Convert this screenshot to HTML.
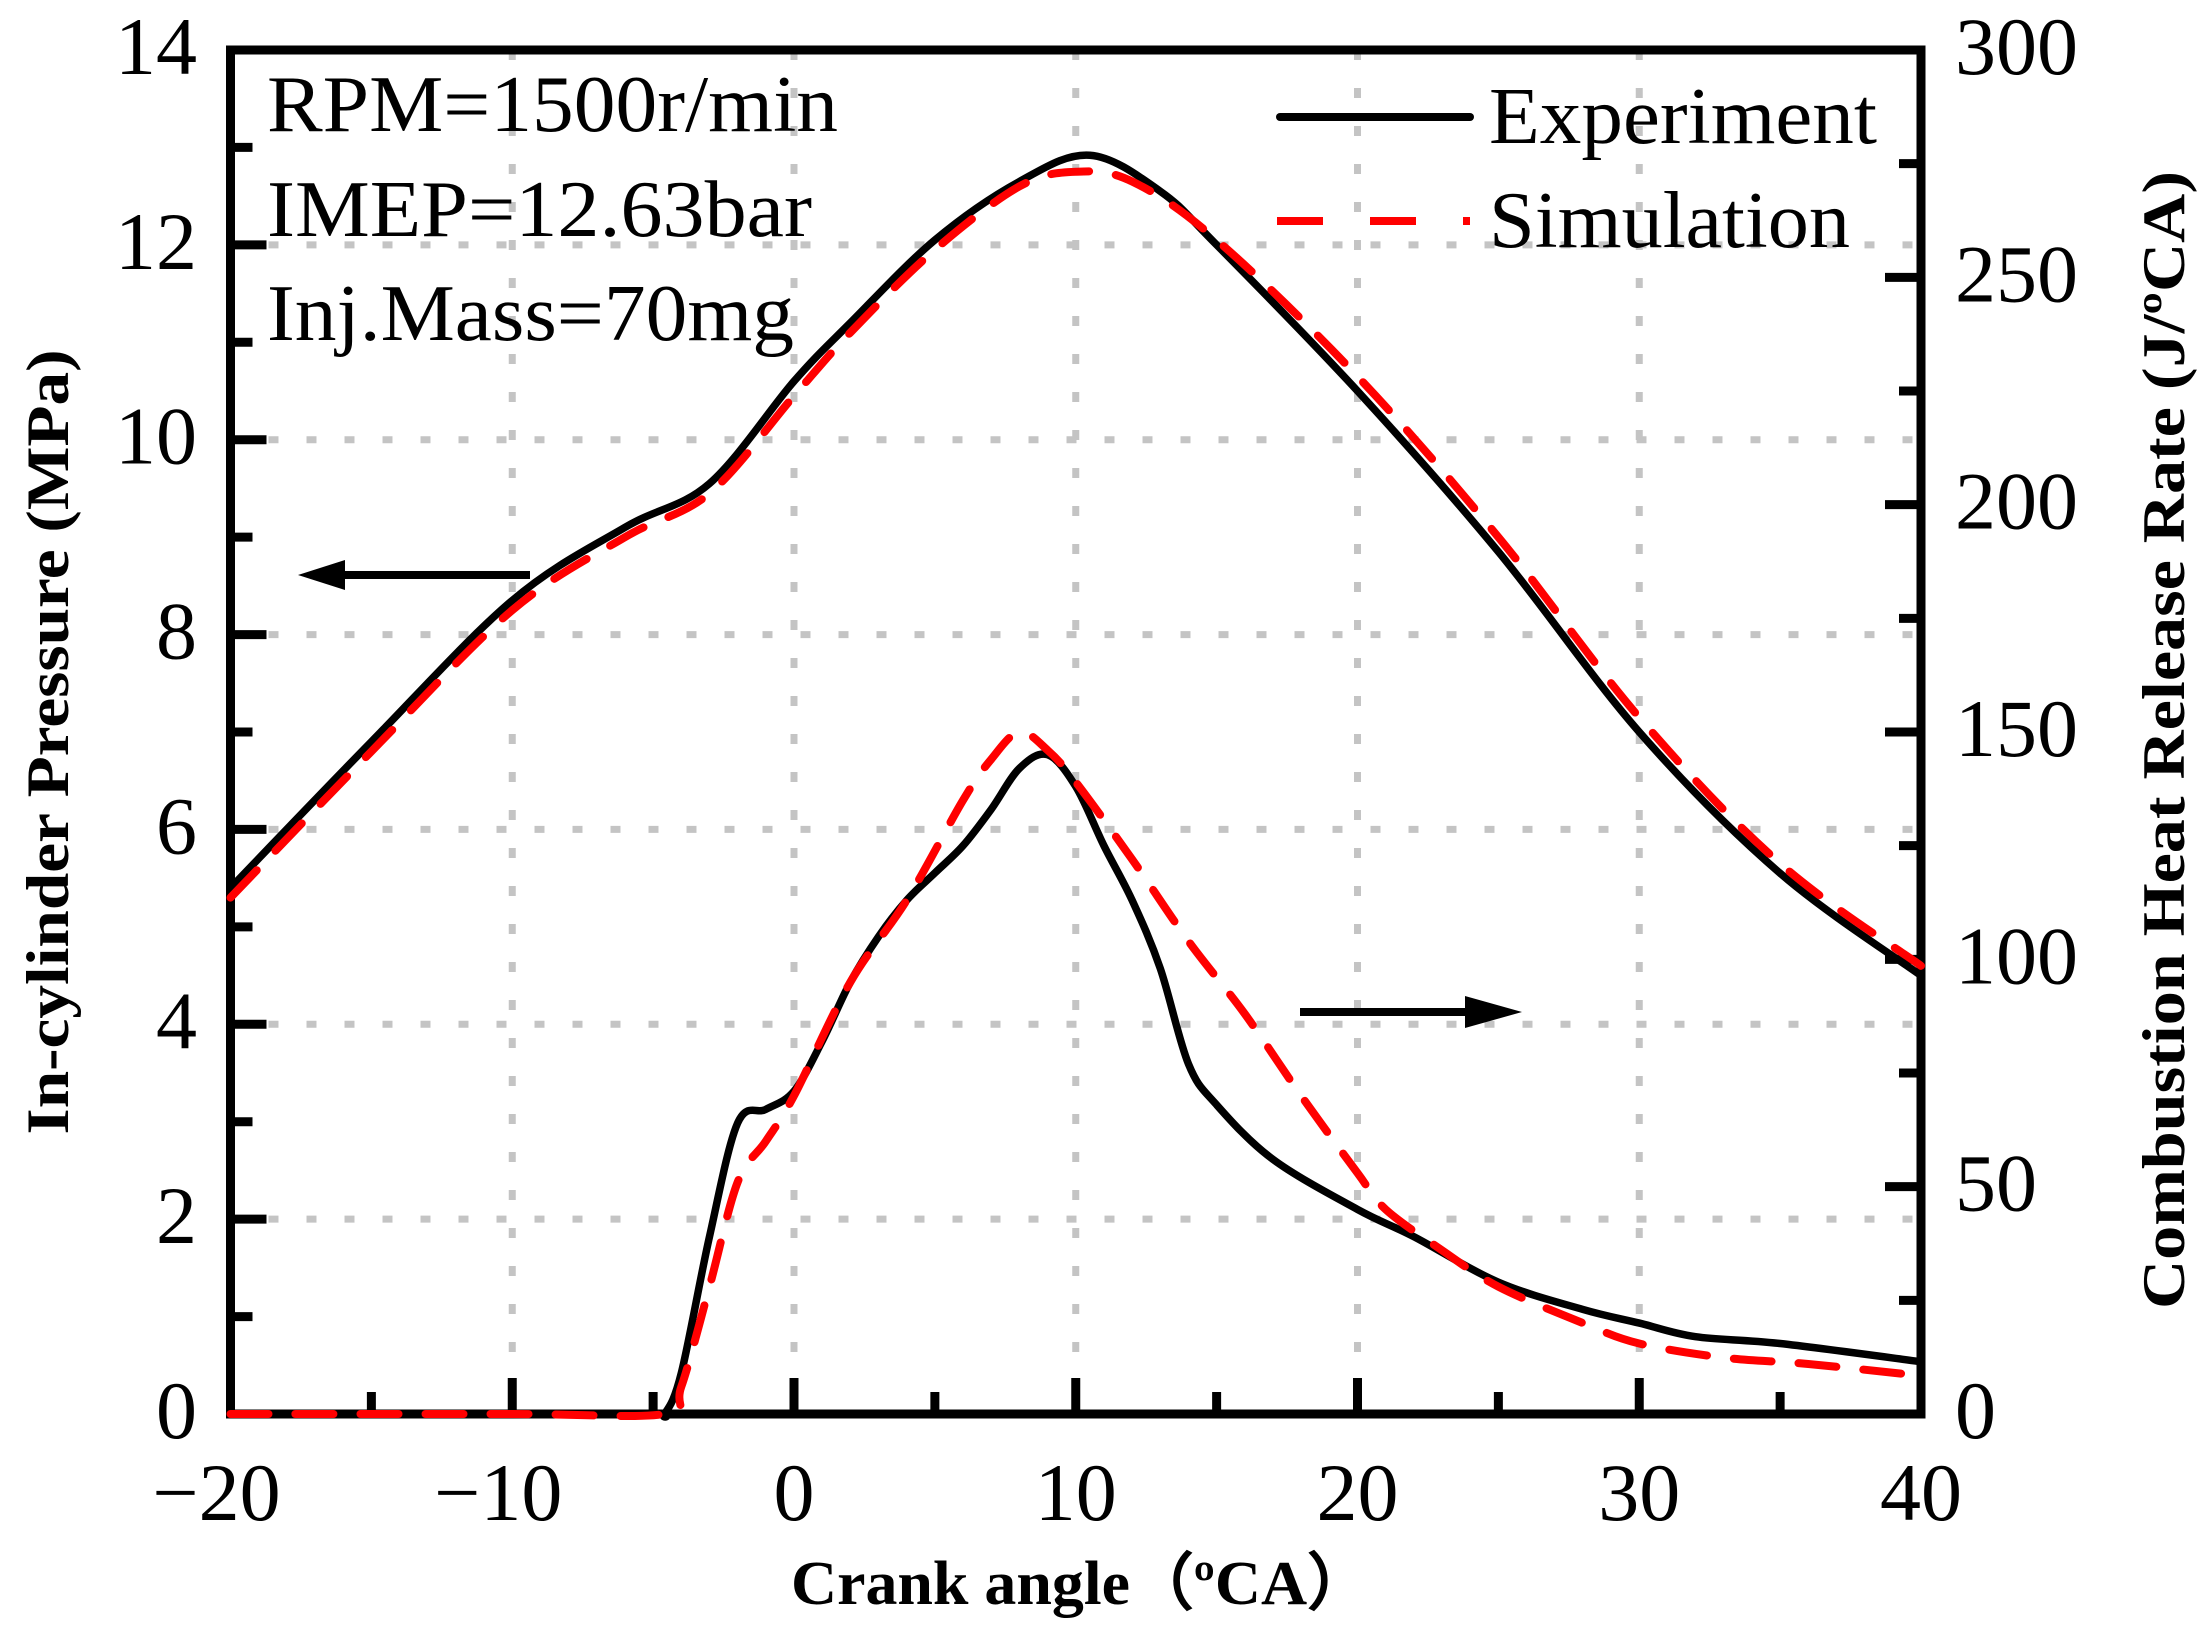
<!DOCTYPE html>
<html><head><meta charset="utf-8"><style>
html,body{margin:0;padding:0;background:#fff;}
svg{display:block;}
text{font-family:"Liberation Serif","Times New Roman",serif;}
</style></head><body>
<svg id="chart" width="2205" height="1633" viewBox="0 0 2205 1633" xmlns="http://www.w3.org/2000/svg">
<g id="grid"></g>
<g id="axes"></g>
<g id="series"></g>
<g id="labels"></g>
<text x="267" y="131" font-size="80" textLength="571" lengthAdjust="spacingAndGlyphs">RPM=1500r/min</text>
<text x="267" y="236" font-size="80" textLength="545" lengthAdjust="spacingAndGlyphs">IMEP=12.63bar</text>
<text x="267" y="340" font-size="80" textLength="527" lengthAdjust="spacingAndGlyphs">Inj.Mass=70mg</text>
<g>
<line x1="1280" y1="117" x2="1470" y2="117" stroke="#000" stroke-width="8" stroke-linecap="round"/>
<text x="1489" y="143" font-size="80" textLength="388" lengthAdjust="spacingAndGlyphs">Experiment</text>
<line x1="1277" y1="221" x2="1470" y2="221" stroke="#f00" stroke-width="8" stroke-dasharray="46,47"/>
<text x="1489" y="247" font-size="80" textLength="361" lengthAdjust="spacingAndGlyphs">Simulation</text>
</g>
<g>
<line x1="530" y1="575" x2="335" y2="575" stroke="#000" stroke-width="8"/>
<polygon points="298,575 345,560 345,590" fill="#000"/>
</g>
<g>
<line x1="1300" y1="1012" x2="1480" y2="1012" stroke="#000" stroke-width="8"/>
<polygon points="1522,1012 1465,996 1465,1028" fill="#000"/>
</g>
<text transform="translate(68,742) rotate(-90)" text-anchor="middle" font-size="60" font-weight="bold" textLength="785" lengthAdjust="spacingAndGlyphs">In-cylinder Pressure (MPa)</text>
<text transform="translate(2184,740) rotate(-90)" text-anchor="middle" font-size="60" font-weight="bold" textLength="1138" lengthAdjust="spacingAndGlyphs">Combustion Heat Release Rate (J/ºCA)</text>
<text x="1081" y="1604" text-anchor="middle" font-size="62" font-weight="bold" textLength="580" lengthAdjust="spacingAndGlyphs">Crank angle（ºCA）</text>
</svg>
<script>
const xTicks=[-20,-10,0,10,20,30,40];
const pTicks=[0,2,4,6,8,10,12,14];
const hTicks=[0,50,100,150,200,250,300];
const expPx=[-20,-15,-10,-6,-3,0,2,5,8,10.5,13,15,20,25,30,35,40];
const expP=[5.4,6.9,8.35,9.1,9.55,10.6,11.2,12.05,12.65,12.92,12.55,12.0,10.5,8.85,7.0,5.55,4.5];
const simPx=[-20,-15,-10,-6,-3,0,2,5,8,10,12,15,20,25,30,35,40];
const simP=[5.3,6.8,8.25,9.0,9.45,10.45,11.1,11.95,12.6,12.75,12.65,12.05,10.65,9.0,7.15,5.65,4.6];
const expHx=[-20,-10,-5,-4.6,-4,-3,-2,-1,0,1,2,3,4,5,6,7,8,9,10,11,12,13,14,15,17,20,22,25,28,30,32,35,40];
const expH=[0,0,0,0,9,39,64,67,71,82,95,105,113,119,125,133,142,145,138,125,113,98,77,68,56,45,39,29,23,20,17,15.5,11.5];
const simHx=[-20,-10,-4.6,-4,-3,-2,-1,0,2,4,6,7,8,9,10,12,14,16,18,20,21,23,25,28,30,33,36,40];
const simH=[0,0,0,6,28,51,60,70,95,113,135,144,150,146,139,122,104,88,70,53,45,36,28,20,15.5,12.4,11,8.4];
const L=230.5,R=1921,T=50,B=1414;
const X=v=>L+(v+20)/60*(R-L);
const YP=v=>B-v/14*(B-T);
const YH=v=>B-v/300*(B-T);
const NS="http://www.w3.org/2000/svg";
function mk(tag,attrs,parent){const e=document.createElementNS(NS,tag);for(const k in attrs)e.setAttribute(k,attrs[k]);parent.appendChild(e);return e;}
const grid=document.getElementById('grid'),axes=document.getElementById('axes'),labels=document.getElementById('labels'),series=document.getElementById('series');
xTicks.slice(1,-1).forEach(v=>{const l=mk('line',{x1:X(v),x2:X(v),y1:T,y2:B,stroke:'#c4c4c4','stroke-width':7,'stroke-dasharray':'10,28'},grid);

});
pTicks.slice(1,-1).forEach(v=>{const l=mk('line',{x1:L,x2:R,y1:YP(v),y2:YP(v),stroke:'#c4c4c4','stroke-width':7,'stroke-dasharray':'10,28'},grid);

});
function path(xs,ys,yf){const p=xs.map((x,i)=>[X(x),yf(ys[i])]);let d='M'+p[0][0]+','+p[0][1];
for(let i=0;i<p.length-1;i++){const p0=p[Math.max(0,i-1)],p1=p[i],p2=p[i+1],p3=p[Math.min(p.length-1,i+2)];
const c1=[p1[0]+(p2[0]-p0[0])/6,p1[1]+(p2[1]-p0[1])/6],c2=[p2[0]-(p3[0]-p1[0])/6,p2[1]-(p3[1]-p1[1])/6];
d+=' C'+c1+' '+c2+' '+p2;}return d;}
const fr=mk('rect',{x:L,y:T,width:R-L,height:B-T,fill:'none',stroke:'#000','stroke-width':9},axes);


for(let v=-20;v<=40;v+=5){const major=v%10===0;const len=major?36:22;
const t1=mk('line',{x1:X(v),x2:X(v),y1:B,y2:B-len,stroke:'#000','stroke-width':9},axes);

}
for(let v=0;v<=14;v+=1){const major=v%2===0;
const t=mk('line',{x1:L,x2:L+(major?36:22),y1:YP(v),y2:YP(v),stroke:'#000','stroke-width':9},axes);

}
for(let v=0;v<=300;v+=25){const major=v%50===0;
const t=mk('line',{x1:R,x2:R-(major?36:22),y1:YH(v),y2:YH(v),stroke:'#000','stroke-width':9},axes);

}
const e1=mk('path',{d:path(expPx,expP,YP),fill:'none',stroke:'#000','stroke-width':7.5,'stroke-linejoin':'round'},series);


const e2=mk('path',{d:path(expHx,expH,YH),fill:'none',stroke:'#000','stroke-width':7.5,'stroke-linejoin':'round'},series);


const s1=mk('path',{d:path(simPx,simP,YP),fill:'none',stroke:'#f00','stroke-width':8,'stroke-dasharray':'38,27','stroke-linecap':'round'},series);


const s2=mk('path',{d:path(simHx,simH,YH),fill:'none',stroke:'#f00','stroke-width':8,'stroke-dasharray':'38,27','stroke-linecap':'round'},series);


xTicks.forEach(v=>{const t=mk('text',{x:X(v)-(v<0?14:0),y:1520,'font-size':82,'text-anchor':'middle'},labels);t.textContent=(v<0?'\u2212':'')+Math.abs(v);

});
pTicks.forEach(v=>{const t=mk('text',{x:197,y:YP(v)+24,'font-size':82,'text-anchor':'end'},labels);t.textContent=v;

});
hTicks.forEach(v=>{const t=mk('text',{x:1955,y:YH(v)+24,'font-size':82,'text-anchor':'start'},labels);t.textContent=v;

});
</script>
</body></html>
